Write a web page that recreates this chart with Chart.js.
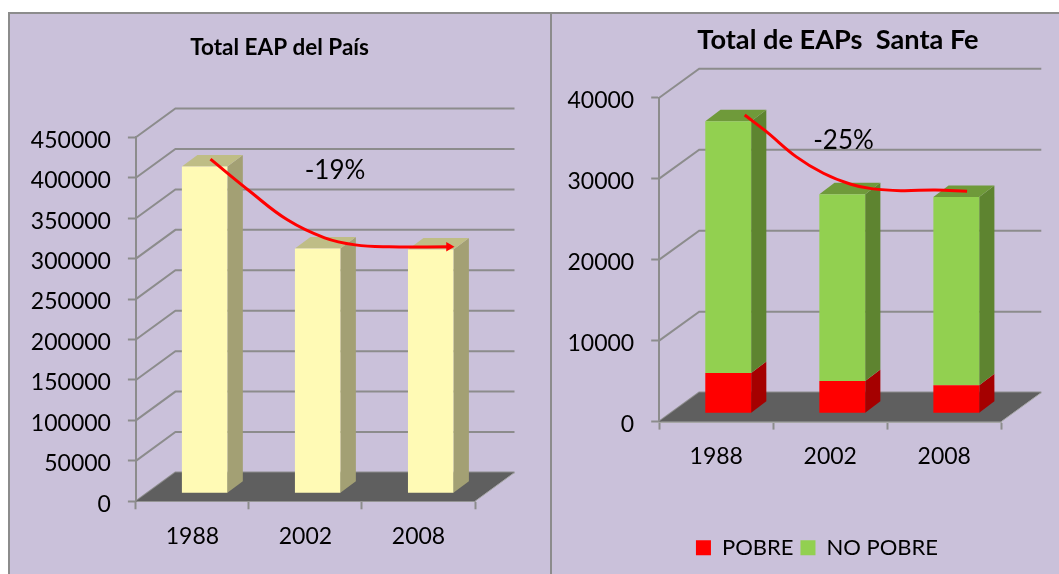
<!DOCTYPE html>
<html>
<head>
<meta charset="utf-8">
<style>
    html, body { margin: 0; padding: 0; background: #fff; }
    #frame { position: absolute; left: 8px; top: 12px; width: 1051px; height: 562px; background: #cac1da;
             border-left: 2px solid #8c8c8c; border-top: 2px solid #8c8c8c; box-sizing: border-box; }
    #divider { position: absolute; left: 550px; top: 12px; width: 2px; height: 562px; background: #8c8c8c; }
    #wrap-pais { position: absolute; left: 10px; top: 14px; width: 540px; height: 560px; }
    #wrap-santafe { position: absolute; left: 552px; top: 14px; width: 507px; height: 560px; }
</style>
</head>
<body>
<div id="frame"></div>
<div id="divider"></div>
<div id="wrap-pais"><canvas id="chart-pais" width="540" height="560"></canvas></div>
<div id="wrap-santafe"><canvas id="chart-santafe" width="507" height="560"></canvas></div>
<script src="https://cdn.jsdelivr.net/npm/chart.js@4"></script>
<script>
const years = ["1988", "2002", "2008"];

const paisTotal = [404000, 302500, 301500];
const paisCurveX = [0.66, 1.01, 1.34, 1.67, 1.94, 2.24, 2.77];
const paisCurveY = [423000, 383000, 348000, 325700, 317000, 314600, 314600];

const santaFePobre = [4975, 3990, 3460];
const santaFeNoPobre = [31070, 23050, 23250];
const santaFeCurveX = [0.75, 0.94, 1.20, 1.44, 1.68, 1.86, 2.12, 2.42, 2.70];
const santaFeCurveY = [37860, 35800, 32720, 30670, 29310, 28770, 28520, 28600, 28440];

const FONT = "Lato, sans-serif";
const GRID = "#8c8c8c";

// draws the fake 3d parts (walls, floor, bar sides) around the normal bars
const threeD = {
    id: "threeD",
    beforeDatasetsDraw(chart, args, opts) {
        const ctx = chart.ctx, area = chart.chartArea, y = chart.scales.y;
        const dx = opts.depthX, dy = opts.depthY;

        ctx.save();
        ctx.strokeStyle = GRID;
        ctx.lineWidth = 2;
        y.ticks.forEach(t => {
            const py = y.getPixelForValue(t.value);
            ctx.beginPath();
            ctx.moveTo(area.left, py);
            ctx.lineTo(area.left + dx, py - dy);
            ctx.lineTo(area.right + dx, py - dy);
            ctx.stroke();
        });

        // floor
        ctx.fillStyle = "#5f5f5f";
        ctx.beginPath();
        ctx.moveTo(area.left, area.bottom);
        ctx.lineTo(area.right, area.bottom);
        ctx.lineTo(area.right + dx, area.bottom - dy);
        ctx.lineTo(area.left + dx, area.bottom - dy);
        ctx.closePath();
        ctx.fill();
        ctx.strokeStyle = "#a6a6a6";
        ctx.lineWidth = 1;
        ctx.beginPath();
        ctx.moveTo(area.right, area.bottom);
        ctx.lineTo(area.right + dx, area.bottom - dy);
        ctx.stroke();

        // bar sides and tops
        ctx.translate(opts.barX, -opts.barY);
        chart.data.datasets.forEach((ds, i) => {
            const meta = chart.getDatasetMeta(i);
            if (meta.type !== "bar") return;
            meta.data.forEach(bar => {
                const r = bar.x + bar.width / 2, l = bar.x - bar.width / 2;
                ctx.fillStyle = ds.sideColor;
                ctx.beginPath();
                ctx.moveTo(r, bar.base);
                ctx.lineTo(r + opts.sideX, bar.base - opts.sideY);
                ctx.lineTo(r + opts.sideX, bar.y - opts.sideY);
                ctx.lineTo(r, bar.y);
                ctx.closePath();
                ctx.fill();
                if (!ds.topColor) return;
                ctx.fillStyle = ds.topColor;
                ctx.beginPath();
                ctx.moveTo(l, bar.y);
                ctx.lineTo(r, bar.y);
                ctx.lineTo(r + opts.sideX, bar.y - opts.sideY);
                ctx.lineTo(l + opts.sideX, bar.y - opts.sideY);
                ctx.closePath();
                ctx.fill();
            });
        });
        ctx.restore();
    },
    beforeDatasetDraw(chart, args, opts) {
        if (args.meta.type !== "bar") return;
        chart.ctx.save();
        chart.ctx.translate(opts.barX, -opts.barY);
    },
    afterDatasetDraw(chart, args) {
        if (args.meta.type === "bar") chart.ctx.restore();
    },
    afterDatasetsDraw(chart, args, opts) {
        const ctx = chart.ctx;
        ctx.save();
        ctx.fillStyle = "#000";
        ctx.font = "26px " + FONT;
        ctx.textAlign = "center";
        ctx.textBaseline = "middle";
        ctx.fillText(opts.note, opts.noteX, opts.noteY);
        ctx.restore();
    },
    // title and legend are not centred on the same spot in the original
    afterLayout(chart, args, opts) {
        const t = chart.titleBlock;
        const shift = opts.titleCenter - (t.left + t.right) / 2;
        t.left += shift;
        t.right += shift;
        const lg = chart.legend;
        if (lg && lg.options.display) {
            const lshift = opts.legendCenter - (lg.left + lg.right) / 2;
            lg.left += lshift;
            lg.right += lshift;
            const h = lg.bottom - lg.top;
            lg.top = opts.legendY - h / 2;
            lg.bottom = lg.top + h;
        }
    }
};

function curveDataset(xs, ys) {
    return {
        type: "line",
        label: "tendencia",
        data: xs.map((x, i) => ({ x: x, y: ys[i] })),
        xAxisID: "xCurve",
        yAxisID: "yCurve",
        borderColor: "#ff0000",
        backgroundColor: "#ff0000",
        borderWidth: 3,
        tension: 0.4,
        pointRadius: 0,
        clip: false,
        order: -1
    };
}

function buildChart(id, datasets, o) {
    return new Chart(document.getElementById(id), {
        type: "bar",
        data: { labels: years, datasets: datasets },
        plugins: [threeD],
        options: {
            responsive: false,
            animation: false,
            layout: { padding: { left: 0, right: o.padRight, top: 0, bottom: o.padBottom } },
            scales: {
                x: {
                    stacked: o.stacked,
                    offset: true,
                    border: { color: "#a6a6a6", width: 2 },
                    grid: { drawOnChartArea: false, tickLength: 8, tickColor: GRID, tickWidth: 2 },
                    ticks: { color: "#000", font: { family: FONT, size: 23 }, padding: o.xPad, maxRotation: 0 },
                    afterFit: s => { s.height = o.xHeight; }
                },
                y: {
                    stacked: o.stacked,
                    min: 0,
                    max: o.max,
                    border: { color: GRID, width: 2 },
                    grid: { drawOnChartArea: false, tickLength: 8, tickColor: GRID, tickWidth: 2 },
                    ticks: { stepSize: o.step, color: "#000", font: { family: FONT, size: 23 }, padding: 17,
                             labelOffset: 3, callback: v => String(v) },
                    afterFit: s => { s.width = o.yWidth; }
                },
                xCurve: { type: "linear", display: false, offset: false, min: 0, max: 3 },
                yCurve: { type: "linear", display: false, min: 0, max: o.max }
            },
            plugins: {
                tooltip: { enabled: false },
                title: {
                    display: true,
                    text: o.title,
                    color: "#000",
                    font: { family: FONT, size: o.titleSize, weight: "bold" },
                    padding: { top: o.titleTop, bottom: o.titleBottom }
                },
                legend: o.legend,
                threeD: o.threeD
            }
        }
    });
}

const paisCurve = curveDataset(paisCurveX, paisCurveY);
paisCurve.pointRadius = paisCurveX.map((x, i) => i === paisCurveX.length - 1 ? 2.5 : 0);
paisCurve.pointStyle = "triangle";
paisCurve.rotation = 90;

buildChart("chart-pais", [
    paisCurve,
    {
        label: "Total EAP",
        data: paisTotal,
        backgroundColor: "#fffab5",
        sideColor: "#a3a074",
        topColor: "#bfbd86",
        grouped: false,
        barPercentage: 0.402,
        categoryPercentage: 1,
        clip: false
    }
], {
    stacked: false, max: 450000, step: 50000,
    padRight: 75, padBottom: 0, xHeight: 72.7, xPad: 13, yWidth: 125.9,
    title: "Total EAP del País", titleSize: 22.5, titleTop: 19.8, titleBottom: 76.5,
    legend: { display: false },
    threeD: { depthX: 39.5, depthY: 28.8, barX: 12.2, barY: 8, sideX: 15.5, sideY: 11.5,
              note: "-19%", noteX: 325, noteY: 157, titleCenter: 269.6 }
});

buildChart("chart-santafe", [
    curveDataset(santaFeCurveX, santaFeCurveY),
    {
        label: "POBRE",
        data: santaFePobre,
        backgroundColor: "#ff0000",
        sideColor: "#a50000",
        grouped: false,
        barPercentage: 0.402,
        categoryPercentage: 1,
        clip: false
    },
    {
        label: "NO POBRE",
        data: santaFeNoPobre,
        backgroundColor: "#92d050",
        sideColor: "#5e8430",
        topColor: "#6f9a3a",
        grouped: false,
        barPercentage: 0.402,
        categoryPercentage: 1,
        clip: false
    }
], {
    stacked: true, max: 40000, step: 10000,
    padRight: 57.7, padBottom: 0, xHeight: 113.4, xPad: 13.2, yWidth: 107.2,
    title: "Total de EAPs  Santa Fe", titleSize: 27.2, titleTop: 10.4, titleBottom: 40.66,
    legend: {
        display: true,
        position: "bottom",
        labels: {
            boxWidth: 15,
            boxHeight: 15,
            padding: 7,
            color: "#000",
            font: { family: FONT, size: 22 },
            filter: item => item.text !== "tendencia"
        }
    },
    threeD: { depthX: 40, depthY: 29, barX: 12, barY: 8.4, sideX: 15.2, sideY: 11.5,
              note: "-25%", noteX: 291.5, noteY: 127, titleCenter: 286, legendCenter: 265, legendY: 535.2 }
});
</script>
</body>
</html>
